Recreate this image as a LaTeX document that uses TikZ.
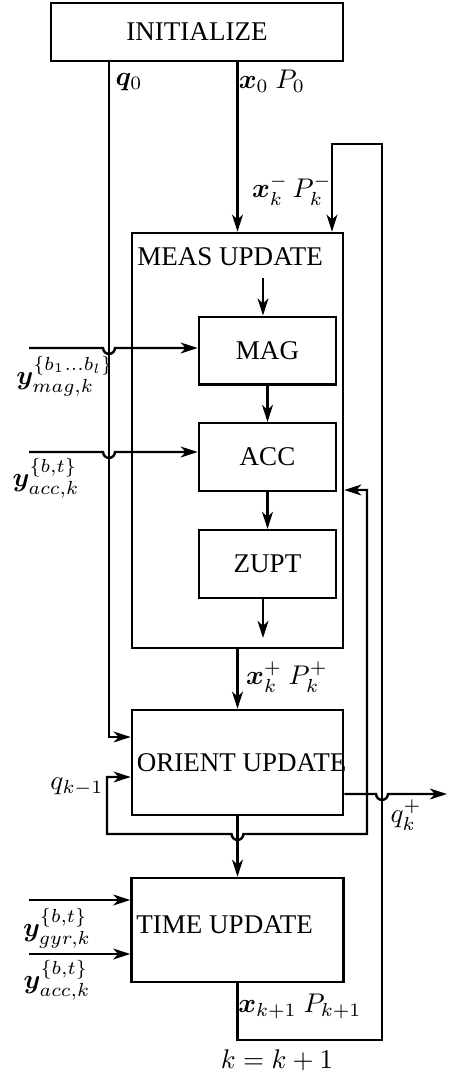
\documentclass[tikz,border=0pt]{standalone}
\usepackage{amsmath,bm}
\usepackage{fontspec}
\setmainfont{Liberation Serif}
\usetikzlibrary{positioning, calc, arrows.meta}

\tikzset{
    blk/.style={draw, line width=0.9pt, inner sep=0pt},
    flowline/.style={line width=0.9pt},
    sig/.style={inner sep=0.5pt},
    >={Stealth[length=6.3pt, width=4pt, inset=1.8pt]}
}

\begin{document}
\begin{tikzpicture}[x=0.37pt, y=-0.37pt, flowline]
                \useasboundingbox (0,0) rectangle (448,1076);
                % blocks
                \node[blk, minimum width=108pt, minimum height=21.5pt] (init) at (197,32) {INITIALIZE};
                \node[blk, minimum width=78.1pt, minimum height=153.6pt] (meas) at (237.5,440.5) {};
                \node[anchor=north west, inner sep=0pt] (meastxt) at ($(meas.north west)+(2pt,-5.5pt)$) {MEAS UPDATE};
                \node[blk, minimum width=50.7pt, minimum height=25pt] (mag) at (267.5,350.5) {MAG};
                \node[blk, minimum width=50.7pt, minimum height=25pt] (acc) at (267.5,457) {ACC};
                \node[blk, minimum width=50.7pt, minimum height=25pt] (zupt) at (267.5,564) {ZUPT};
                \node[blk, minimum width=78.1pt, minimum height=38.9pt] (orient) at (237.5,762.5) {};
                \node[anchor=west, inner sep=0pt] (orienttxt) at ($(orient.west)+(1.8pt,0)$) {ORIENT UPDATE};
                \node[blk, minimum width=78.4pt, minimum height=38.5pt] (time) at (237.5,930) {};
                \node[anchor=west, inner sep=0pt] (timetxt) at ($(time.west)+(1.8pt,2pt)$) {TIME UPDATE};
                % helper points
                \coordinate (qa) at (109,737);
                \coordinate (measin) at (263,278);
                \coordinate (zuptout) at (263,638);
                \coordinate (ymag) at (29,348);
                \coordinate (yacc) at (29,452);
                \coordinate (ygyr) at (29,900);
                \coordinate (yacct) at (29,954);
                \coordinate (qk) at (447,794);
                \coordinate (accfb) at (367,490);
                \coordinate (qloop) at (107,834);
                \coordinate (qprev) at (107,777);
                \coordinate (fbbot) at (382,1040);
                \coordinate (fbtop) at (382,144);
                \coordinate (fbin) at (332,144);
                % connections
                \draw[->] (init.south -| meas.north) -- (meas.north);
                \draw[->] (init.south -| qa) -- (qa) -- (qa -| orient.west);
                \draw[->] (measin) -- (measin |- mag.north);
                \draw[->] (mag) -- (acc);
                \draw[->] (acc) -- (zupt);
                \draw[->] (zupt.south -| measin) -- (zuptout);
                \draw[->] (meas) -- (orient);
                \draw[->] (ymag) -- ($(ymag -| qa)+(-2.2pt,0)$) arc[start angle=180, end angle=360, radius=2.2pt] -- (ymag -| mag.west);
                \draw[->] (yacc) -- ($(yacc -| qa)+(-2.2pt,0)$) arc[start angle=180, end angle=360, radius=2.2pt] -- (yacc -| acc.west);
                \draw[->] (orient.east |- qk) -- ($(qk -| fbbot)+(-2.2pt,0)$) arc[start angle=180, end angle=360, radius=2.2pt] -- (qk);
                \draw[<->] (accfb -| meas.east) -- (accfb) -- (qloop -| accfb) -- ($(qloop -| orient.south)+(2.2pt,0)$) arc[start angle=0, end angle=-180, radius=2.2pt] -- (qloop) -- (qprev) -- (qprev -| orient.west);
                \draw[->] (orient) -- (time);
                \draw[->] (ygyr) -- (ygyr -| time.west);
                \draw[->] (yacct) -- (yacct -| time.west);
                \draw[->] (time.south) |- (fbbot) -- (fbtop) -- (fbin) -- (fbin |- meas.north);
                % signal labels
                \node[sig] (q0lbl) at (129,82) {$\bm{q}_0$};
                \node[sig] (x0lbl) at (272,81) {$\bm{x}_0\ P_0$};
                \node[sig] (xmlbl) at (292,190) {$\bm{x}_k^-\,P_k^-$};
                \node[sig] (ymaglbl) at (65,376) {$\bm{y}_{mag,k}^{\{b_1\ldots b_l\}}$};
                \node[sig] (yacclbl) at (46,478) {$\bm{y}_{acc,k}^{\{b,t\}}$};
                \node[sig] (xplbl) at (287,677) {$\bm{x}_k^+\ P_k^+$};
                \node[sig] (qprevlbl) at (77,787) {$q_{k-1}$};
                \node[sig] (qklbl) at (406,815) {$q_k^+$};
                \node[sig] (ygyrlbl) at (57,928) {$\bm{y}_{gyr,k}^{\{b,t\}}$};
                \node[sig] (yacctlbl) at (57,980) {$\bm{y}_{acc,k}^{\{b,t\}}$};
                \node[sig] (xnlbl) at (300,1006) {$\bm{x}_{k+1}\ P_{k+1}$};
                \node[sig] (klbl) at (277,1060) {$k=k+1$};
            \end{tikzpicture}
\end{document}
